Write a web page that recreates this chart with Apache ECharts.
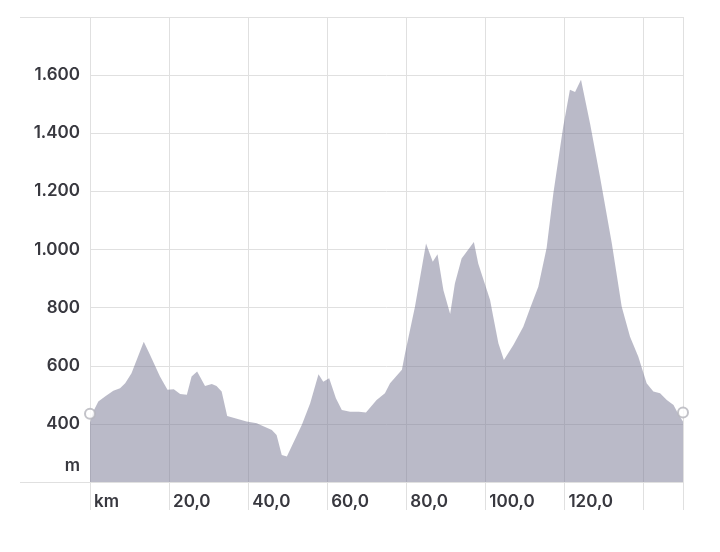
<!DOCTYPE html>
<html>
<head>
<meta charset="utf-8">
<script src="https://cdn.jsdelivr.net/npm/echarts@6/dist/echarts.min.js"></script>
<style>html,body{margin:0;padding:0;background:#fff}#c{width:720px;height:552px}</style>
</head>
<body>
<div id="c"></div>
<script>
// distance along route (km)
var km = [0, 0.8, 2.1, 3.8, 5.9, 7.6, 8.9, 10.5, 13.6, 15.2, 17.7, 19.6, 21.2, 22.8, 24.5, 25.7, 27.1, 29.1, 30.8, 32.0, 33.3, 34.7, 39.6, 42.2, 43.0, 46.0, 47.2, 48.5, 49.8, 53.6, 55.7, 57.8, 59.0, 60.5, 62.2, 63.7, 65.8, 68.0, 69.8, 72.5, 74.6, 75.9, 78.9, 79.7, 82.2, 85.0, 86.7, 87.9, 89.4, 91.1, 92.3, 94.0, 97.1, 98.2, 101.2, 102.0, 103.3, 104.7, 107.1, 109.6, 111.3, 113.4, 115.5, 117.2, 119.7, 121.4, 122.7, 124.2, 126.5, 129.0, 132.0, 134.5, 136.6, 138.7, 140.8, 142.5, 144.2, 145.9, 147.6, 148.9, 150.0];
// elevation (m)
var elev = [404, 442, 477, 494, 514, 523, 540, 574, 683, 637, 563, 517, 519, 503, 500, 563, 580, 530, 537, 530, 511, 427, 408, 402, 397, 379, 362, 293, 288, 397, 471, 571, 545, 557, 488, 448, 442, 442, 439, 482, 505, 540, 586, 643, 803, 1021, 958, 984, 860, 778, 883, 969, 1026, 952, 826, 769, 677, 620, 671, 734, 797, 872, 1005, 1193, 1422, 1550, 1542, 1584, 1433, 1250, 1021, 803, 700, 631, 540, 511, 505, 482, 465, 431, 408];
var yTicks = [200, 400, 600, 800, 1000, 1200, 1400, 1600, 1800];
var xTicks = [0, 20, 40, 60, 80, 100, 120, 140, 150];

var textColor = '#38383f';
var gridColor = '#e0e0e0';
var font = 'Inter, "Noto Sans", sans-serif';

var profile = km.map(function (k, i) { return [k, elev[i]]; });
var ends = [profile[0], profile[profile.length - 1]];

function fmtY(v) {
  if (v === yTicks[0]) return '{m|m}';
  if (v === yTicks[yTicks.length - 1]) return '';
  var s = String(v);
  if (v >= 1000) s = s.slice(0, s.length - 3) + '.' + s.slice(s.length - 3);
  return s;
}
function fmtX(v) {
  if (v === 0) return 'km';
  if (v >= 140) return '';
  return v.toFixed(1).replace('.', ',');
}

var chart = echarts.init(document.getElementById('c'), null, {renderer: 'canvas'});
chart.setOption({
  animation: false,
  backgroundColor: '#fff',
  grid: [
    {left: 90, right: 37, top: 17, bottom: 70},
    {left: 20, right: 37, top: 17, bottom: 70}
  ],
  xAxis: [{
    type: 'value', gridIndex: 0,
    min: xTicks[0], max: xTicks[xTicks.length - 1], interval: 20,
    axisLine: {show: false},
    axisTick: {show: true, length: 28, lineStyle: {color: gridColor, width: 1}},
    splitLine: {show: true, lineStyle: {color: gridColor, width: 1}},
    axisLabel: {
      formatter: fmtX, align: 'left', padding: [0, 0, 0, 4], margin: 11,
      color: textColor, fontSize: 17, fontWeight: 600, fontFamily: font
    }
  }, {
    type: 'value', gridIndex: 1, min: 0, max: 1, show: false
  }],
  yAxis: [{
    type: 'value', gridIndex: 0,
    min: yTicks[0], max: yTicks[yTicks.length - 1], interval: 200,
    axisLine: {show: false},
    axisTick: {show: false},
    splitLine: {show: true, lineStyle: {color: gridColor, width: 1}},
    axisLabel: {
      formatter: fmtY, margin: 10,
      color: textColor, fontSize: 17, fontWeight: 600, fontFamily: font,
      rich: {m: {padding: [0, 0, 32, 0], color: textColor, fontSize: 17, fontWeight: 600, fontFamily: font}}
    }
  }, {
    type: 'value', gridIndex: 1, min: 0, max: 1, interval: 1,
    axisLine: {show: false}, axisTick: {show: false}, axisLabel: {show: false},
    splitLine: {show: true, lineStyle: {color: gridColor, width: 1}}
  }],
  series: [{
    type: 'line',
    xAxisIndex: 0, yAxisIndex: 0,
    data: profile,
    showSymbol: false,
    lineStyle: {width: 0},
    areaStyle: {color: 'rgb(118,118,146)', opacity: 0.5, origin: 'start'},
    silent: true
  }, {
    type: 'scatter',
    xAxisIndex: 0, yAxisIndex: 0,
    data: ends,
    symbol: 'circle',
    symbolSize: 10,
    symbolOffset: [0, -9],
    itemStyle: {color: '#fff', borderColor: '#b4b4bc', borderWidth: 2},
    z: 5,
    silent: true
  }]
});
</script>
</body>
</html>
